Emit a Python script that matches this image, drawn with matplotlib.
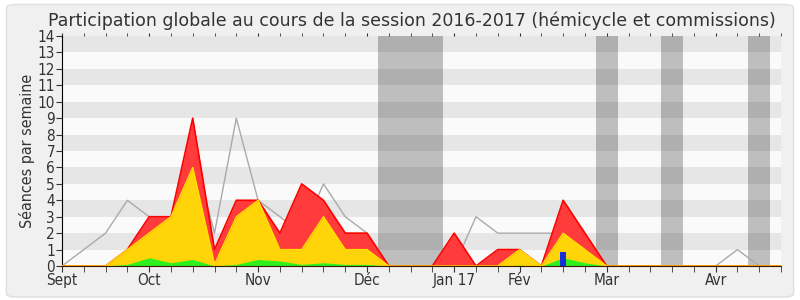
import matplotlib
matplotlib.use("Agg")
import matplotlib.pyplot as plt
from matplotlib.patches import FancyBboxPatch
import numpy as np

weeks = list(range(34))
total = [0, 1, 2, 4, 3, 2, 7, 2, 9, 4, 3, 2, 5, 3, 2, 0, 0, 0, 0, 3, 2, 2, 2, 2, 0, 0, 0, 0, 0, 0, 0, 1, 0, 0]
red = [0, 0, 0, 1, 3, 3, 9, 1, 4, 4, 2, 5, 4, 2, 2, 0, 0, 0, 2, 0, 1, 1, 0, 4, 2, 0, 0, 0, 0, 0, 0, 0, 0, 0]
yellow = [0, 0, 0, 1, 2, 3, 6, 0.1, 3, 4, 1, 1, 3, 1, 1, 0, 0, 0, 0, 0, 0, 1, 0, 2, 1, 0, 0, 0, 0, 0, 0, 0, 0, 0]
green = [0, 0, 0, 0.1, 0.5, 0.2, 0.4, 0, 0.1, 0.4, 0.3, 0.1, 0.2, 0.1, 0.1, 0, 0, 0, 0, 0, 0, 0.05, 0, 0.5, 0.2, 0, 0, 0, 0, 0, 0, 0, 0, 0]
blue_week = [23]
blue_val = [0.85]
vacation_weeks = [15, 16, 17, 25, 28, 32]
month_pos = [0, 4, 9, 14, 18, 21, 25, 30]
month_labels = ["Sept", "Oct", "Nov", "Déc", "Jan 17", "Fév", "Mar", "Avr"]
title = "Participation globale au cours de la session 2016-2017 (hémicycle et commissions)"
ylabel = "Séances par semaine"

fig = plt.figure(figsize=(8, 3), dpi=100)
fig.patch.set_facecolor("white")
panel = FancyBboxPatch((0.008, 0.01), 0.984, 0.975, boxstyle="round,pad=0,rounding_size=0.012",
                       transform=fig.transFigure, facecolor="#f0f0f0", edgecolor="#dedede",
                       linewidth=1, zorder=-10)
fig.patches.append(panel)

ax = fig.add_axes([0.0775, 0.1133, 0.8988, 0.7667])
ax.set_facecolor("#fafafa")
ax.set_xlim(0, 33)
ax.set_ylim(0, 14)

for w in vacation_weeks:
    ax.axvspan(w - 0.5, w + 0.5, color="#bebebe", lw=0, zorder=1)
for k in range(1, 14, 2):
    ax.axhspan(k, k + 1, color="black", alpha=0.08, lw=0, zorder=2)

x = np.array(weeks)
ax.plot(x, total, color="#aaaaaa", lw=1, zorder=3)
ax.fill_between(x, 0, red, color="#ff3b3b", lw=0, zorder=4)
ax.plot(x, red, color="#ff0000", lw=1.2, zorder=4.1)
ax.fill_between(x, 0, yellow, color="#ffd50a", lw=0, zorder=5)
ax.plot(x, yellow, color="#ffe000", lw=1, zorder=5.1)
ax.fill_between(x, 0, green, color="#2ef01e", lw=0, zorder=6)
ax.bar(blue_week, blue_val, width=0.28, color="#1530d8", zorder=7)

for s in ["top", "right"]:
    ax.spines[s].set_visible(False)
ax.spines["left"].set_color("black")
ax.spines["bottom"].set_color("#3a1a00")
ax.spines["bottom"].set_zorder(8)

ax.set_yticks(range(0, 15))
ax.tick_params(axis="y", direction="out", length=4, labelsize=11, colors="#333333", pad=1)
ax.set_xticks(weeks, minor=True)
ax.set_xticks(month_pos)
ax.set_xticklabels(month_labels)
ax.tick_params(axis="x", which="both", direction="out", length=4, labelsize=11,
               colors="#333333", pad=1, top=True)
for lab in ax.get_xticklabels() + ax.get_yticklabels():
    lab.set_fontstretch("condensed")
ax.tick_params(axis="x", which="both", top=True, labeltop=False)
for t in ax.xaxis.get_major_ticks() + ax.xaxis.get_minor_ticks():
    t.tick2line.set_markersize(2)

ax.set_ylabel(ylabel, fontsize=11.5, color="#333333", labelpad=2, fontstretch="condensed")
fig.text(0.515, 0.912, title, ha="center", va="baseline", fontsize=12.5, color="#333333")

fig.savefig("out.png", dpi=100, facecolor=fig.get_facecolor())
